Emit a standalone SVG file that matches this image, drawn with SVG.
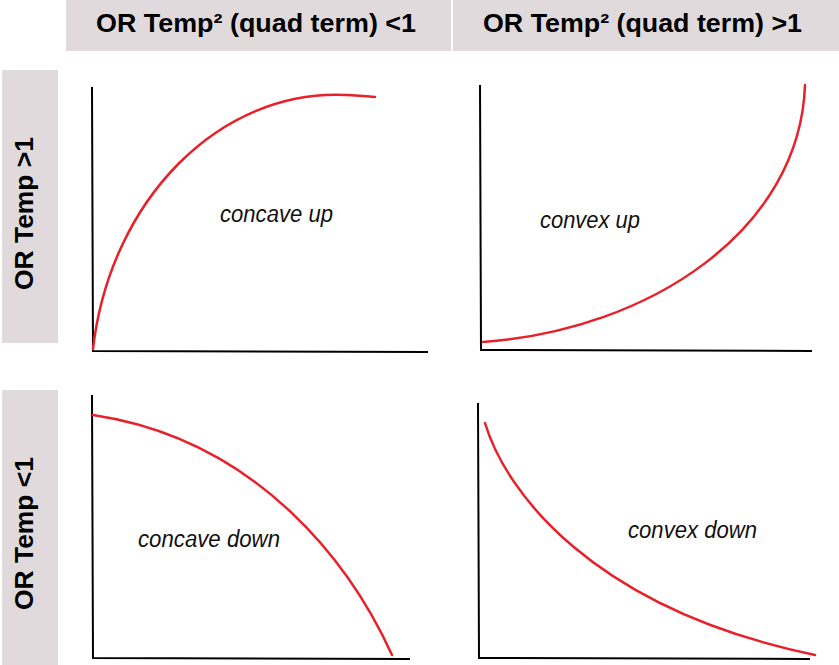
<svg xmlns="http://www.w3.org/2000/svg" width="839" height="665" viewBox="0 0 839 665">
<style>
.hdr{fill:#e0dadc}
.ht{font-family:"Liberation Sans",Arial,sans-serif;font-weight:bold;font-size:25px;fill:#000}
.lbl{font-family:"Liberation Sans",Arial,sans-serif;font-style:italic;font-size:23.5px;fill:#111}
.ax{fill:none;stroke:#000;stroke-width:2}
.cv{fill:none;stroke:#e8202a;stroke-width:2.5;stroke-linecap:round}
</style>
<rect width="839" height="665" fill="#fff"/>
<g id="header-left"><rect class="hdr" x="66" y="0" width="385" height="51"/><text class="ht" x="96" y="32" textLength="320" lengthAdjust="spacingAndGlyphs">OR Temp² (quad term) &lt;1</text></g>
<g id="header-right"><rect class="hdr" x="453" y="0" width="386" height="51"/><text class="ht" x="483" y="32" textLength="319" lengthAdjust="spacingAndGlyphs">OR Temp² (quad term) &gt;1</text></g>
<g id="side-top"><rect class="hdr" x="2" y="70" width="56" height="273"/><text class="ht" transform="translate(33,290) rotate(-90)" x="0" y="0" textLength="153" lengthAdjust="spacingAndGlyphs">OR Temp &gt;1</text></g>
<g id="side-bottom"><rect class="hdr" x="2" y="390" width="56" height="275"/><text class="ht" transform="translate(33,610) rotate(-90)" x="0" y="0" textLength="153" lengthAdjust="spacingAndGlyphs">OR Temp &lt;1</text></g>
<g id="plot-concave-up">
<path class="ax" d="M92,87 L93,351 L428,352"/>
<path class="cv" d="M93,349 C110,200 220,88 347,95 Q365,96 375,97"/>
<text class="lbl" x="220" y="222" textLength="113" lengthAdjust="spacingAndGlyphs">concave up</text>
</g>
<g id="plot-convex-up">
<path class="ax" d="M480,85 L481,350 L812,351"/>
<path class="cv" d="M483,342 C650,330 800,230 805,85"/>
<text class="lbl" x="540" y="228" textLength="100" lengthAdjust="spacingAndGlyphs">convex up</text>
</g>
<g id="plot-concave-down">
<path class="ax" d="M92,395 L93,658 L410,659"/>
<path class="cv" d="M93,415 C260,440 352,567 392,655"/>
<text class="lbl" x="138" y="547" textLength="142" lengthAdjust="spacingAndGlyphs">concave down</text>
</g>
<g id="plot-convex-down">
<path class="ax" d="M478,403 L479,658 L810,659"/>
<path class="cv" d="M485,423 C505,490 590,608 815,655"/>
<text class="lbl" x="628" y="538" textLength="129" lengthAdjust="spacingAndGlyphs">convex down</text>
</g>
</svg>
